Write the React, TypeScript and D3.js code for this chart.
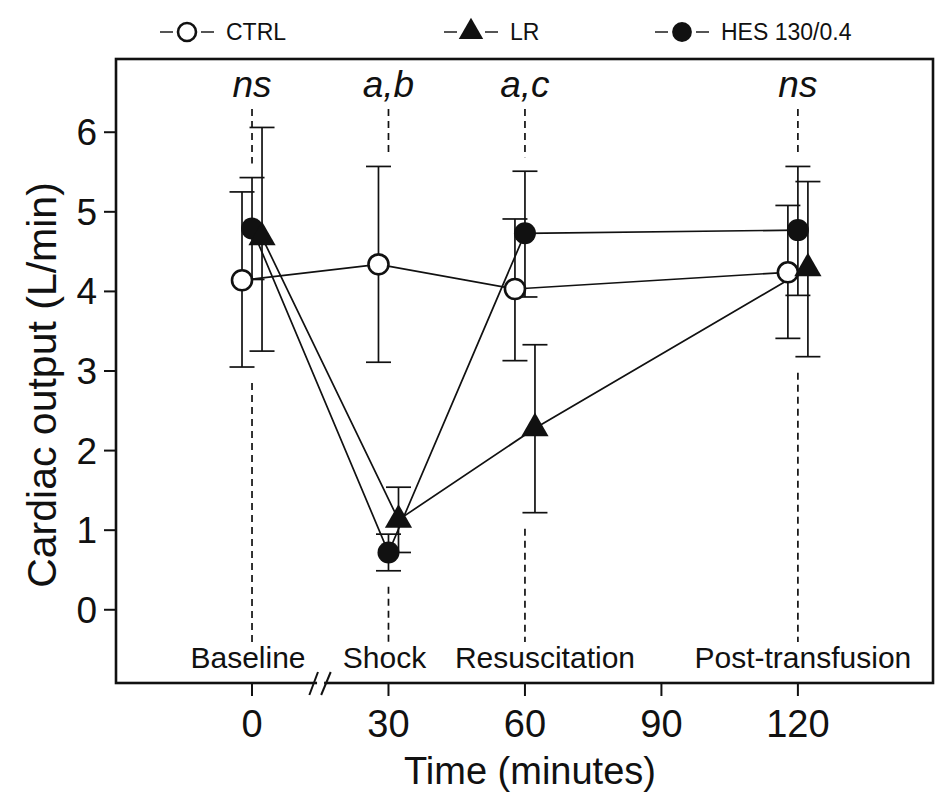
import React from 'react';
import * as d3 from 'd3';

const times = [0, 30, 60, 120];
const categories = ['Baseline', 'Shock', 'Resuscitation', 'Post-transfusion'];
const significance = ['ns', 'a,b', 'a,c', 'ns'];
const xTicks = [0, 30, 60, 90, 120];
const yTicks = [0, 1, 2, 3, 4, 5, 6];

const ctrlMean = [4.14, 4.34, 4.03, 4.24];
const ctrlLow = [3.05, 3.11, 3.13, 3.41];
const ctrlHigh = [5.25, 5.57, 4.91, 5.08];

const lrMean = [4.68, 1.13, 2.28, 4.29];
const lrLow = [3.25, 0.72, 1.22, 3.18];
const lrHigh = [6.06, 1.54, 3.33, 5.38];

const hesMean = [4.79, 0.72, 4.73, 4.77];
const hesLow = [4.15, 0.49, 3.93, 3.95];
const hesHigh = [5.43, 0.95, 5.51, 5.57];

const seriesNames = ['CTRL', 'LR', 'HES 130/0.4'];

const W = 935;
const H = 796;
const left = 116, right = 933, top = 59, bottom = 683;

const x = d3.scaleLinear().domain([-29.9, 149.7]).range([left, right]);
const y = d3.scaleLinear().domain([-0.92, 6.92]).range([bottom, top]);

type Series = { name: string; mean: number[]; low: number[]; high: number[]; offset: number; marker: 'open' | 'tri' | 'filled' };

const series: Series[] = [
  { name: seriesNames[0], mean: ctrlMean, low: ctrlLow, high: ctrlHigh, offset: -2.2, marker: 'open' },
  { name: seriesNames[2], mean: hesMean, low: hesLow, high: hesHigh, offset: 0, marker: 'filled' },
  { name: seriesNames[1], mean: lrMean, low: lrLow, high: lrHigh, offset: 2.2, marker: 'tri' },
];

const FONT = 'Liberation Sans, Arial, Helvetica, sans-serif';

function Marker({ kind, cx, cy, scale = 1 }: { kind: string; cx: number; cy: number; scale?: number }) {
  if (kind === 'open') return <circle cx={cx} cy={cy} r={10 * scale} fill="#fff" stroke="#111" strokeWidth={2.6} />;
  if (kind === 'filled') return <circle cx={cx} cy={cy} r={11 * scale} fill="#111" />;
  const d = d3.symbol().type(d3.symbolTriangle).size(320 * scale * scale)() as string;
  return <path d={d} transform={`translate(${cx},${cy})`} fill="#111" />;
}

export default function App() {
  const line = d3.line<[number, number]>().x(d => d[0]).y(d => d[1]);
  const capW = 12.5;

  const legendItems = [
    { kind: 'open', name: seriesNames[0], x0: 160 },
    { kind: 'tri', name: seriesNames[1], x0: 444 },
    { kind: 'filled', name: seriesNames[2], x0: 655 },
  ];
  const labelDx = [-4, -4, 20, 5];

  return (
    <svg width={W} height={H} style={{ position: 'absolute', left: 0, top: 0, background: '#fff' }} fontFamily={FONT}>
      <rect x={0} y={0} width={W} height={H} fill="#fff" />
      {/* legend */}
      {legendItems.map((it, i) => (
        <g key={i}>
          <line x1={it.x0} x2={it.x0 + 13} y1={32} y2={32} stroke="#555" strokeWidth={2} />
          <Marker kind={it.kind} cx={it.x0 + 27} cy={32} scale={0.9} />
          <line x1={it.x0 + 41} x2={it.x0 + 54} y1={32} y2={32} stroke="#555" strokeWidth={2} />
          <text x={it.x0 + 66} y={40} fontSize={23} fill="#111">{it.name}</text>
        </g>
      ))}

      {/* dashed guide lines */}
      {times.map((t, i) => {
        const topEnd = Math.min(y(ctrlHigh[i]), y(hesHigh[i])) - 14;
        const lowest = Math.max(...series.map(s => y(s.low[i])));
        return (
          <g key={i} stroke="#111" strokeWidth={1.7} strokeDasharray="7,5">
            <line x1={x(t)} x2={x(t)} y1={109} y2={topEnd} />
            <line x1={x(t)} x2={x(t)} y1={lowest + 16} y2={642} />
          </g>
        );
      })}

      {/* error bars */}
      {series.map((s, si) => (
        <g key={si} stroke="#111" strokeWidth={1.7}>
          {times.map((t, i) => {
            const cx = x(t + s.offset);
            return (
              <g key={i}>
                <line x1={cx} x2={cx} y1={y(s.low[i])} y2={y(s.high[i])} />
                <line x1={cx - capW} x2={cx + capW} y1={y(s.low[i])} y2={y(s.low[i])} />
                <line x1={cx - capW} x2={cx + capW} y1={y(s.high[i])} y2={y(s.high[i])} />
              </g>
            );
          })}
        </g>
      ))}

      {/* connecting lines */}
      {series.map((s, si) => (
        <path key={si} d={line(times.map((t, i) => [x(t + s.offset), y(s.mean[i])])) as string}
          fill="none" stroke="#111" strokeWidth={1.7} />
      ))}

      {/* markers */}
      {series.map((s, si) => (
        <g key={si}>
          {times.map((t, i) => (
            <Marker key={i} kind={s.marker} cx={x(t + s.offset)} cy={y(s.mean[i])} />
          ))}
        </g>
      ))}

      {/* significance labels */}
      {times.map((t, i) => (
        <text key={i} x={x(t)} y={97} textAnchor="middle" fontSize={37} fontStyle="italic" fill="#111">{significance[i]}</text>
      ))}

      {/* category labels */}
      {times.map((t, i) => (
        <text key={i} x={x(t) + labelDx[i]} y={668} textAnchor="middle" fontSize={30} fill="#111">{categories[i]}</text>
      ))}

      {/* frame */}
      <rect x={left} y={top} width={right - left} height={bottom - top} fill="none" stroke="#111" strokeWidth={2.6} />

      {/* y axis ticks */}
      {yTicks.map(v => (
        <g key={v}>
          <line x1={left - 12} x2={left} y1={y(v)} y2={y(v)} stroke="#111" strokeWidth={2} />
          <text x={97} y={y(v) + 13} textAnchor="end" fontSize={37} fill="#111">{v}</text>
        </g>
      ))}

      {/* x axis ticks */}
      {xTicks.map(v => (
        <g key={v}>
          <line x1={x(v)} x2={x(v)} y1={bottom} y2={bottom + 13} stroke="#111" strokeWidth={2} />
          <text x={x(v)} y={737} textAnchor="middle" fontSize={38} fill="#111">{v}</text>
        </g>
      ))}

      {/* axis break */}
      <rect x={x(14.3)} y={bottom - 3} width={7} height={6} fill="#fff" />
      <line x1={x(12.6)} x2={x(14.5)} y1={bottom + 12} y2={bottom - 11} stroke="#111" strokeWidth={2} />
      <line x1={x(15.2)} x2={x(17.3)} y1={bottom + 12} y2={bottom - 11} stroke="#111" strokeWidth={2} />

      {/* axis titles */}
      <text x={530} y={784} textAnchor="middle" fontSize={38} fill="#111">Time (minutes)</text>
      <text transform={`translate(56,385) rotate(-90)`} textAnchor="middle" fontSize={41} fill="#111">Cardiac output (L/min)</text>
    </svg>
  );
}
